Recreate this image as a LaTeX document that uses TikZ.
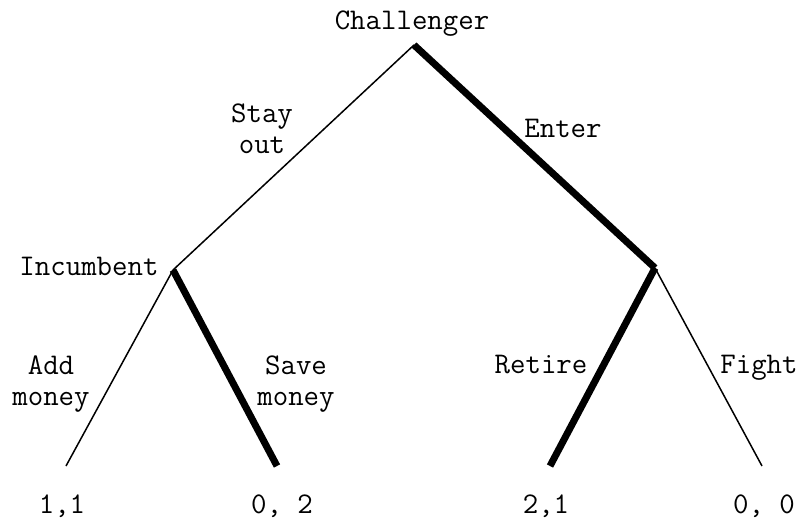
\documentclass[tikz,border=0pt]{standalone}
\begin{document}
\begin{tikzpicture}[x=1pt,y=-1pt,
  thinedge/.style={line width=1.5pt},
  thickedge/.style={line width=7pt},
  lbl/.style={anchor=base,inner sep=0pt,font=\ttfamily\fontsize{30}{31}\selectfont,align=center}]
\useasboundingbox (0,0) rectangle (800,519);
\coordinate (root) at (414,45);
\coordinate (inc) at (173,270);
\coordinate (ent) at (655,268);
\coordinate (l1) at (66,466);
\coordinate (l2) at (277,466);
\coordinate (l3) at (550,466);
\coordinate (l4) at (762,466);
\draw[thinedge] (root) -- (inc);
\draw[thickedge] (root) -- (ent);
\draw[thinedge] (inc) -- (l1);
\draw[thickedge] (inc) -- (l2);
\draw[thickedge] (ent) -- (l3);
\draw[thinedge] (ent) -- (l4);
\node[lbl] (tC) at (412,30) {Challenger};
\node[lbl] (tS) at (262,153) {Stay\\out};
\node[lbl] (tE) at (563,137) {Enter};
\node[lbl] (tI) at (89,275) {Incumbent};
\node[lbl] (tA) at (51,405) {Add\\money};
\node[lbl] (tV) at (296,405) {Save\\money};
\node[lbl] (tR) at (541,373) {Retire};
\node[lbl] (tF) at (759,373) {Fight};
\node[lbl] (p1) at (62,513) {1,1};
\node[lbl] (p2) at (282,513) {0, 2};
\node[lbl] (p3) at (546,513) {2,1};
\node[lbl] (p4) at (764,513) {0, 0};
\end{tikzpicture}
\end{document}
